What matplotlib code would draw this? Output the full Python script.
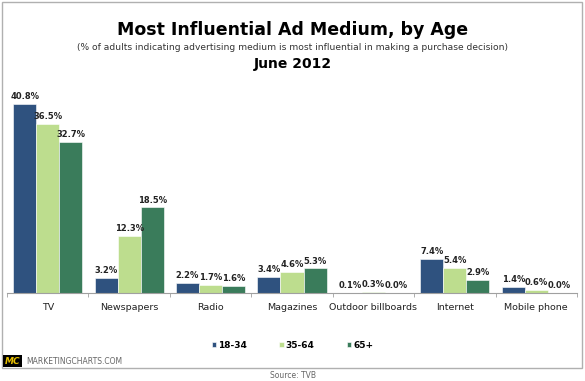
import matplotlib.pyplot as plt
from matplotlib.patches import Rectangle
import numpy as np

categories = ["TV", "Newspapers", "Radio", "Magazines", "Outdoor billboards", "Internet", "Mobile phone"]
series_names = ["18-34", "35-64", "65+"]
age_18_34 = [40.8, 3.2, 2.2, 3.4, 0.1, 7.4, 1.4]
age_35_64 = [36.5, 12.3, 1.7, 4.6, 0.3, 5.4, 0.6]
age_65_plus = [32.7, 18.5, 1.6, 5.3, 0.0, 2.9, 0.0]
colors = ["#2f527f", "#bddd8e", "#3a7c5b"]

W, H = 585, 381
fig = plt.figure(figsize=(W / 100, H / 100), dpi=100)
fig.patch.set_facecolor("white")

# outer frame
fig.add_artist(Rectangle((1.5 / W, 1 - 368 / H), 580 / W, 366 / H, transform=fig.transFigure,
                         fill=False, edgecolor="#b0b0b0", linewidth=1.0))

ax = fig.add_axes([7 / W, 1 - 293 / H, 570 / W, 210 / H])
ymax = 210 / 4.63
ax.set_ylim(0, ymax)
ax.set_xlim(-0.5, len(categories) - 0.5)

x = np.arange(len(categories))
bw = 0.283
for i, (vals, c) in enumerate(zip([age_18_34, age_35_64, age_65_plus], colors)):
    pos = x + (i - 1) * bw
    ax.bar(pos, vals, width=bw, color=c, edgecolor="white", linewidth=0.4, label=series_names[i])
    for p, v in zip(pos, vals):
        ax.text(p, v + 0.6, f"{v:.1f}%", ha="center", va="bottom", fontsize=6.0,
                fontweight="bold", color="#222222")

for s in ["top", "right", "left"]:
    ax.spines[s].set_visible(False)
ax.spines["bottom"].set_color("#a0a0a0")
ax.set_yticks([])
ax.set_xticks(np.arange(len(categories) + 1) - 0.5, minor=True)
ax.tick_params(axis="x", which="minor", length=3, color="#a0a0a0")
ax.tick_params(axis="x", which="major", length=0, pad=7)
ax.set_xticks(x)
ax.set_xticklabels(categories, fontsize=6.8, color="#222222")

# titles
fig.text(0.5, 1 - 30 / H, "Most Influential Ad Medium, by Age", ha="center", va="center",
         fontsize=12.5, fontweight="bold")
fig.text(0.5, 1 - 47 / H,
         "(% of adults indicating advertising medium is most influential in making a purchase decision)",
         ha="center", va="center", fontsize=6.6, color="#333333")
fig.text(0.5, 1 - 64 / H, "June 2012", ha="center", va="center", fontsize=10, fontweight="bold")

# legend
handles, labels = ax.get_legend_handles_labels()
leg = fig.legend(handles, labels, loc="center", bbox_to_anchor=(0.5, 1 - 345 / H), ncol=3,
                 frameon=False, handlelength=0.5, handleheight=0.5, handletextpad=0.2,
                 columnspacing=3.6, prop={"size": 6.5, "weight": "bold"})

# logo
fig.add_artist(Rectangle((3 / W, 1 - 367 / H), 19 / W, 12 / H, transform=fig.transFigure,
                         facecolor="black", edgecolor="none"))
fig.text(12.5 / W, 1 - 361 / H, "MC", ha="center", va="center", fontsize=6.5,
         fontweight="bold", color="#e8c000", style="italic")
fig.text(26 / W, 1 - 361 / H, "MARKETINGCHARTS.COM", ha="left", va="center", fontsize=5.5,
         color="#666666")
fig.text(0.5, 1 - 375 / H, "Source: TVB", ha="center", va="center", fontsize=5.5, color="#666666")

fig.savefig("out.png", dpi=100)
